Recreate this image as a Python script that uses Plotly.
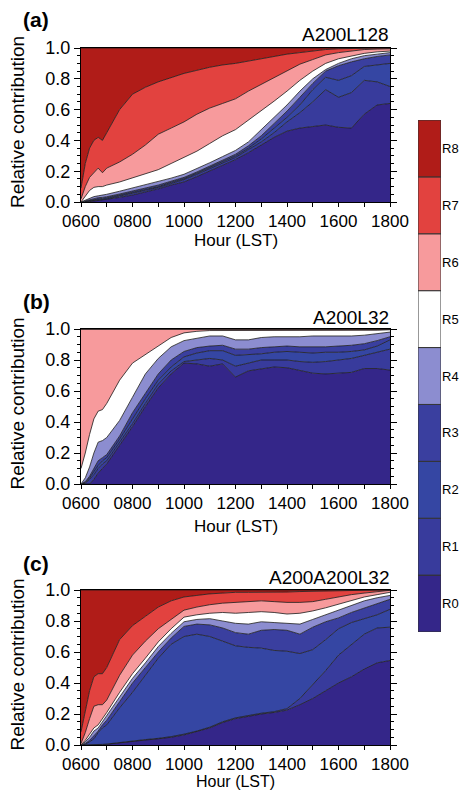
import plotly.graph_objects as go

# ---------------- data ----------------
TIMES = ["0600", "0610", "0620", "0630", "0640", "0650", "0700", "0730", "0800", "0830",
         "0900", "0930", "1000", "1030", "1100", "1130", "1200", "1230", "1300", "1330",
         "1400", "1430", "1500", "1530", "1600", "1630", "1700", "1730", "1800"]

REGIONS = ["R0", "R1", "R2", "R3", "R4", "R5", "R6", "R7", "R8"]
REGION_COLORS = ["#342689", "#383B9C", "#3546A3", "#3A3F9F", "#8C8DD0",
                 "#FFFFFF", "#F79A9C", "#E2423F", "#B01C18"]

XTICK_VALUES = [6, 7, 8, 9, 10, 11, 12, 13, 14, 15, 16, 17, 18]
XTICK_LABELS = ["0600", "", "0800", "", "1000", "", "1200", "", "1400", "", "1600", "", "1800"]
YTICK_VALUES = [0.0, 0.2, 0.4, 0.6, 0.8, 1.0]

PANEL_TAGS = ["(a)", "(b)", "(c)"]
PANEL_TITLES = ["A200L128", "A200L32", "A200A200L32"]

# Panel (a): cumulative upper boundary of each region (R0 .. R7); R8 reaches 1.0
a_r0 = [0, 0, 0.003, 0.006, 0.01, 0.012, 0.015, 0.03, 0.045, 0.065, 0.085, 0.11, 0.13, 0.165, 0.20, 0.235,
        0.275, 0.32, 0.37, 0.42, 0.46, 0.48, 0.49, 0.50, 0.485, 0.48, 0.57, 0.63, 0.64]
a_r1 = [0, 0.003, 0.008, 0.012, 0.016, 0.018, 0.02, 0.038, 0.055, 0.075, 0.095, 0.12, 0.145, 0.18, 0.215, 0.25,
        0.29, 0.34, 0.39, 0.45, 0.52, 0.58, 0.65, 0.73, 0.68, 0.71, 0.79, 0.78, 0.75]
a_r2 = [0, 0.005, 0.012, 0.018, 0.022, 0.024, 0.027, 0.045, 0.062, 0.082, 0.10, 0.128, 0.152, 0.188, 0.225, 0.262,
        0.30, 0.35, 0.41, 0.48, 0.55, 0.63, 0.73, 0.81, 0.79, 0.82, 0.88, 0.89, 0.90]
a_r3 = [0, 0.007, 0.016, 0.024, 0.028, 0.03, 0.034, 0.052, 0.07, 0.09, 0.11, 0.135, 0.16, 0.195, 0.232, 0.27,
        0.31, 0.365, 0.43, 0.51, 0.59, 0.68, 0.77, 0.85, 0.885, 0.91, 0.93, 0.945, 0.955]
a_r4 = [0, 0.012, 0.025, 0.035, 0.04, 0.045, 0.05, 0.07, 0.09, 0.11, 0.13, 0.155, 0.18, 0.215, 0.255, 0.295,
        0.335, 0.39, 0.47, 0.55, 0.63, 0.72, 0.80, 0.86, 0.90, 0.93, 0.95, 0.96, 0.97]
a_r5 = [0, 0.04, 0.075, 0.095, 0.10, 0.10, 0.11, 0.13, 0.155, 0.18, 0.21, 0.25, 0.29, 0.33, 0.38, 0.43,
        0.47, 0.53, 0.59, 0.655, 0.72, 0.79, 0.85, 0.90, 0.93, 0.95, 0.965, 0.975, 0.98]
a_r6 = [0.02, 0.10, 0.16, 0.19, 0.22, 0.19, 0.22, 0.26, 0.31, 0.37, 0.44, 0.48, 0.52, 0.57, 0.61, 0.64,
        0.67, 0.72, 0.765, 0.81, 0.85, 0.895, 0.925, 0.955, 0.97, 0.98, 0.99, 0.993, 0.995]
a_r7 = [0.09, 0.25, 0.35, 0.40, 0.42, 0.40, 0.45, 0.60, 0.70, 0.745, 0.78, 0.81, 0.835, 0.855, 0.875, 0.89,
        0.90, 0.915, 0.93, 0.945, 0.96, 0.97, 0.98, 0.99, 0.995, 0.998, 1.0, 1.0, 1.0]

# Panel (b)
b_r0 = [0, 0, 0.0, 0.03, 0.07, 0.10, 0.13, 0.25, 0.37, 0.50, 0.62, 0.71, 0.78, 0.775, 0.76, 0.775,
        0.69, 0.73, 0.745, 0.755, 0.75, 0.73, 0.715, 0.71, 0.715, 0.72, 0.745, 0.745, 0.735]
b_r1 = [0, 0.005, 0.03, 0.06, 0.10, 0.13, 0.15, 0.27, 0.39, 0.52, 0.645, 0.73, 0.79, 0.80, 0.81, 0.80,
        0.76, 0.78, 0.80, 0.80, 0.80, 0.79, 0.785, 0.79, 0.80, 0.81, 0.83, 0.85, 0.87]
b_r2 = [0, 0.01, 0.04, 0.08, 0.12, 0.15, 0.17, 0.29, 0.42, 0.55, 0.67, 0.755, 0.82, 0.845, 0.86, 0.86,
        0.83, 0.835, 0.84, 0.85, 0.855, 0.85, 0.845, 0.85, 0.85, 0.855, 0.865, 0.89, 0.93]
b_r3 = [0, 0.015, 0.05, 0.10, 0.15, 0.17, 0.19, 0.31, 0.46, 0.585, 0.71, 0.80, 0.855, 0.88, 0.89, 0.895,
        0.87, 0.87, 0.88, 0.885, 0.89, 0.885, 0.885, 0.885, 0.89, 0.895, 0.905, 0.925, 0.95]
b_r4 = [0, 0.04, 0.11, 0.20, 0.27, 0.28, 0.30, 0.41, 0.56, 0.71, 0.81, 0.885, 0.925, 0.94, 0.955, 0.955,
        0.93, 0.93, 0.945, 0.95, 0.95, 0.95, 0.955, 0.955, 0.955, 0.955, 0.96, 0.97, 0.98]
b_r5 = [0.10, 0.20, 0.32, 0.42, 0.47, 0.48, 0.52, 0.67, 0.78, 0.835, 0.895, 0.945, 0.975, 0.985, 0.99, 0.99,
        0.99, 0.99, 0.99, 0.99, 0.99, 0.99, 0.99, 0.99, 0.99, 0.99, 0.99, 0.992, 0.995]
b_r6 = [1.0, 1.0, 1.0, 1.0, 1.0, 1.0, 1.0, 1.0, 1.0, 1.0, 1.0, 1.0, 0.998, 0.997, 0.997, 0.997,
        0.997, 0.997, 0.997, 0.997, 0.997, 0.997, 0.997, 0.997, 0.997, 0.997, 0.997, 0.998, 0.998]
b_r7 = [1.0, 1.0, 1.0, 1.0, 1.0, 1.0, 1.0, 1.0, 1.0, 1.0, 1.0, 1.0, 1.0, 1.0, 1.0, 1.0,
        1.0, 1.0, 1.0, 1.0, 1.0, 1.0, 1.0, 1.0, 1.0, 1.0, 1.0, 1.0, 1.0]

# Panel (c)
c_r0 = [0, 0, 0, 0.001, 0.002, 0.003, 0.005, 0.015, 0.025, 0.032, 0.04, 0.05, 0.065, 0.085, 0.11, 0.145,
        0.17, 0.185, 0.20, 0.21, 0.225, 0.26, 0.30, 0.35, 0.40, 0.44, 0.49, 0.53, 0.545]
c_r1 = [0, 0, 0.001, 0.002, 0.003, 0.004, 0.006, 0.017, 0.027, 0.035, 0.043, 0.054, 0.07, 0.09, 0.115, 0.15,
        0.175, 0.19, 0.205, 0.215, 0.235, 0.30, 0.39, 0.48, 0.58, 0.65, 0.715, 0.755, 0.76]
c_r2 = [0, 0.005, 0.02, 0.04, 0.08, 0.11, 0.13, 0.24, 0.34, 0.45, 0.56, 0.65, 0.70, 0.715, 0.70, 0.67,
        0.64, 0.63, 0.625, 0.61, 0.605, 0.59, 0.615, 0.68, 0.75, 0.79, 0.815, 0.84, 0.875]
c_r3 = [0, 0.01, 0.03, 0.06, 0.09, 0.13, 0.16, 0.28, 0.40, 0.50, 0.60, 0.69, 0.765, 0.78, 0.775, 0.755,
        0.725, 0.715, 0.74, 0.745, 0.74, 0.715, 0.76, 0.795, 0.82, 0.855, 0.885, 0.91, 0.94]
c_r4 = [0, 0.02, 0.05, 0.09, 0.11, 0.15, 0.19, 0.31, 0.43, 0.53, 0.635, 0.72, 0.795, 0.81, 0.815, 0.80,
        0.785, 0.78, 0.795, 0.79, 0.785, 0.78, 0.81, 0.84, 0.87, 0.90, 0.93, 0.95, 0.965]
c_r5 = [0, 0.03, 0.07, 0.11, 0.13, 0.17, 0.21, 0.34, 0.46, 0.56, 0.665, 0.75, 0.825, 0.84, 0.85, 0.855,
        0.85, 0.855, 0.86, 0.855, 0.845, 0.85, 0.865, 0.885, 0.91, 0.935, 0.955, 0.97, 0.985]
c_r6 = [0.01, 0.08, 0.17, 0.25, 0.26, 0.26, 0.29, 0.45, 0.58, 0.67, 0.75, 0.81, 0.87, 0.89, 0.905, 0.915,
        0.92, 0.925, 0.93, 0.925, 0.92, 0.92, 0.925, 0.94, 0.955, 0.97, 0.98, 0.99, 0.998]
c_r7 = [0.085, 0.22, 0.35, 0.44, 0.46, 0.46, 0.50, 0.68, 0.77, 0.83, 0.89, 0.93, 0.955, 0.965, 0.975, 0.98,
        0.985, 0.985, 0.985, 0.985, 0.987, 0.99, 0.992, 0.995, 0.997, 0.998, 1.0, 1.0, 1.0]

TOTAL = [1.0] * len(TIMES)

PANELS = [
    [a_r0, a_r1, a_r2, a_r3, a_r4, a_r5, a_r6, a_r7, TOTAL],
    [b_r0, b_r1, b_r2, b_r3, b_r4, b_r5, b_r6, b_r7, TOTAL],
    [c_r0, c_r1, c_r2, c_r3, c_r4, c_r5, c_r6, c_r7, TOTAL],
]

# ---------------- layout helpers (screen pixel -> paper) ----------------
# the page body has an 8px margin, so the figure starts at (8, 8) on screen
OFF = 8
W, H = 461, 784
def px(x):
    return (x - OFF) / W
def py(y):
    return 1 - (y - OFF) / H

PLOT_X = (81, 390)
PANEL_Y = [(48, 202), (329, 484), (590, 745)]
TAG_Y = [20, 301, 563]
TITLE_Y = [34, 317, 577]
XTITLE_Y = [241, 526, 781]
XTITLE_SIZE = [17, 17, 16]

FONT = "Liberation Sans, Arial, Helvetica, sans-serif"
hours = [int(t[:2]) + int(t[2:]) / 60 for t in TIMES]

fig = go.Figure()
layout = dict(
    width=W, height=H, margin=dict(l=0, r=0, t=0, b=0),
    paper_bgcolor="white", plot_bgcolor="white", showlegend=False,
    font=dict(family=FONT, color="black"),
)
annotations = []

for i, tops in enumerate(PANELS):
    n = i + 1
    xa = "x" if n == 1 else f"x{n}"
    ya = "y" if n == 1 else f"y{n}"
    fig.add_trace(go.Scatter(x=hours, y=[0.0] * len(hours), mode="lines",
                             line=dict(width=0), xaxis=xa, yaxis=ya, hoverinfo="skip"))
    for k, top in enumerate(tops):
        fig.add_trace(go.Scatter(
            x=hours, y=top, mode="lines", fill="tonexty",
            fillcolor=REGION_COLORS[k],
            line=dict(color="#1a1a1a", width=0.8),
            xaxis=xa, yaxis=ya, name=REGIONS[k], hoverinfo="skip"))
    y0, y1 = PANEL_Y[i]
    layout[f"xaxis{'' if n == 1 else n}"] = dict(
        domain=[px(PLOT_X[0]), px(PLOT_X[1])], anchor=ya, range=[6, 18],
        tickmode="array", tickvals=XTICK_VALUES, ticktext=XTICK_LABELS,
        ticks="outside", ticklen=4, tickwidth=1, tickcolor="black",
        showline=True, linecolor="black", linewidth=1, mirror=True,
        showgrid=False, zeroline=False, automargin=False,
        tickfont=dict(size=17, family=FONT, color="black"),
    )
    layout[f"yaxis{'' if n == 1 else n}"] = dict(
        domain=[py(y1), py(y0)], anchor=xa, range=[0, 1],
        tickmode="array", tickvals=YTICK_VALUES, tickformat=".1f",
        ticks="outside", ticklen=6, tickwidth=1, tickcolor="black",
        minor=dict(dtick=0.05, tick0=0, ticks="outside", ticklen=3, tickcolor="black", showgrid=False),
        showline=True, linecolor="black", linewidth=1, mirror="ticks",
        showgrid=False, zeroline=False, automargin=False,
        tickfont=dict(size=18, family=FONT, color="black"),
    )
    annotations.append(dict(text=f"<b>{PANEL_TAGS[i]}</b>", x=px(21), y=py(TAG_Y[i]),
                            xref="paper", yref="paper", xanchor="left", yanchor="middle",
                            showarrow=False, font=dict(size=21, family=FONT, color="black")))
    annotations.append(dict(text=PANEL_TITLES[i], x=px(391), y=py(TITLE_Y[i]),
                            xref="paper", yref="paper", xanchor="right", yanchor="middle",
                            showarrow=False, font=dict(size=19, family=FONT, color="black")))
    annotations.append(dict(text="Relative contribution", x=px(17), y=py((y0 + y1) / 2 - 3),
                            xref="paper", yref="paper", xanchor="center", yanchor="middle",
                            textangle=-90, showarrow=False,
                            font=dict(size=19, family=FONT, color="black")))
    annotations.append(dict(text="Hour (LST)", x=px((PLOT_X[0] + PLOT_X[1]) / 2), y=py(XTITLE_Y[i]),
                            xref="paper", yref="paper", xanchor="center", yanchor="middle",
                            showarrow=False, font=dict(size=XTITLE_SIZE[i], family=FONT, color="black")))

# ---------------- colour bar as a small stacked-bar axis ----------------
fig.add_trace(go.Bar(
    x=[0] * len(REGIONS), y=[1] * len(REGIONS), base=list(range(len(REGIONS))),
    width=1, marker=dict(color=REGION_COLORS, line=dict(color="#333333", width=1)),
    xaxis="x4", yaxis="y4", hoverinfo="skip"))
layout["xaxis4"] = dict(domain=[px(418), px(441)], anchor="y4", range=[-0.5, 0.5],
                        visible=False, automargin=False)
layout["yaxis4"] = dict(domain=[py(632), py(120)], anchor="x4", range=[0, len(REGIONS)],
                        side="right", tickmode="array",
                        tickvals=[k + 0.5 for k in range(len(REGIONS))], ticktext=REGIONS,
                        ticks="", showline=False, showgrid=False, zeroline=False,
                        automargin=False, tickfont=dict(size=13, family=FONT, color="black"))

layout["annotations"] = annotations
fig.update_layout(**layout)
fig.write_html("out.html")
